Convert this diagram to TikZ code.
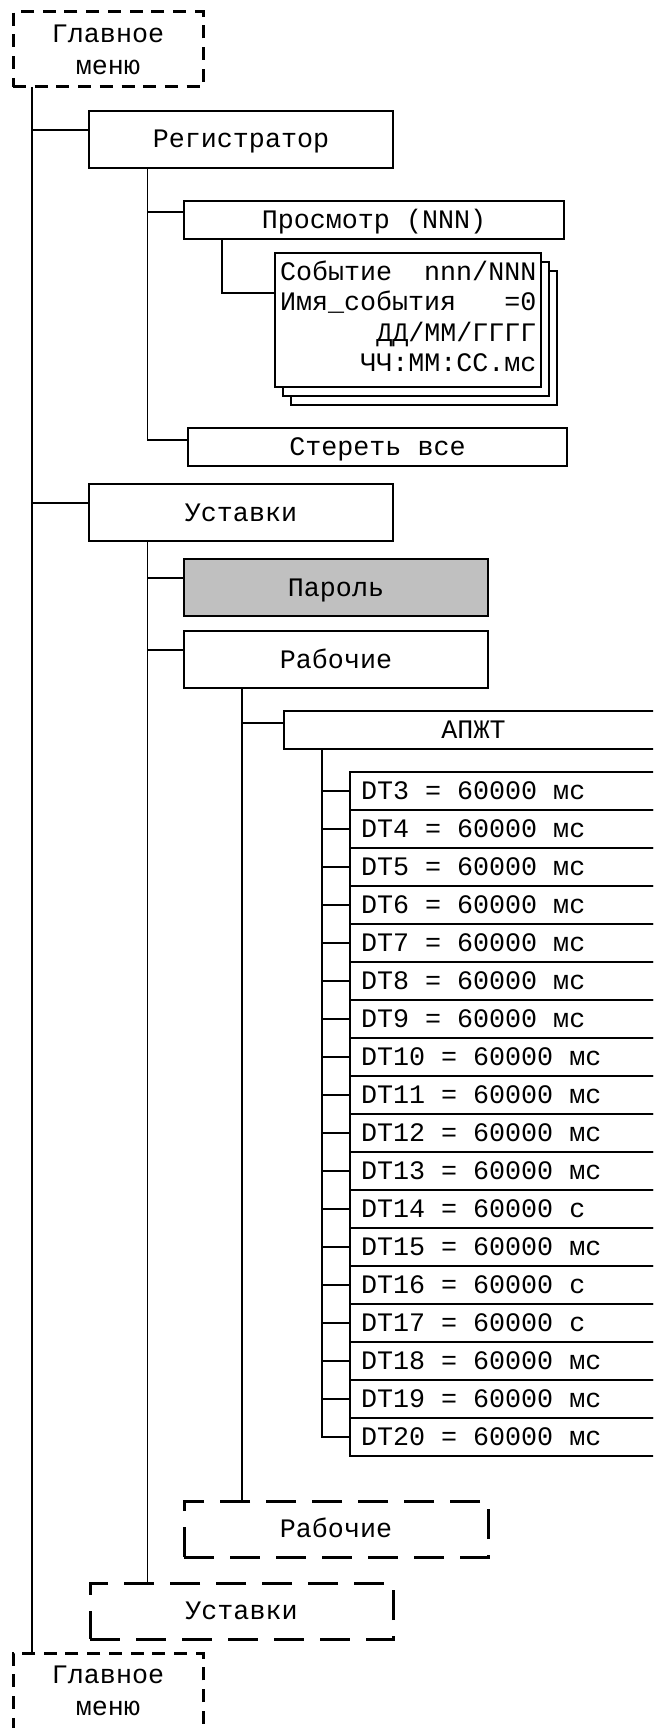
\documentclass[tikz,border=0pt]{standalone}
\usepackage{fontspec}
\setmainfont{Liberation Mono}
\newcommand\myfs{\fontsize{26.7}{32}\selectfont}
\definecolor{pgray}{RGB}{192,192,192}
\begin{document}
\begin{tikzpicture}[x=1pt,y=-1pt,
  box/.style={draw, line width=1.8pt, rectangle, anchor=north west, inner sep=0pt, outer sep=0pt, fill=white, text height=17pt, text depth=0pt, font=\myfs},
  greybox/.style={box, fill=pgray},
  dbox/.style={box, line width=3pt, dash pattern=on 30pt off 16pt},
  gmbox/.style={draw, line width=3pt, dash pattern=on 13pt off 8.7pt, rectangle, anchor=north west, inner sep=0pt, outer sep=0pt, fill=white, align=center, font=\myfs},
  evbox/.style={draw, line width=1.8pt, rectangle, anchor=north west, inner sep=0pt, outer sep=0pt, fill=white, minimum width=266pt, minimum height=134pt},
  evtext/.style={inner sep=0pt, outer sep=0pt, font=\myfs},
  dtbox/.style={draw, line width=1.8pt, rectangle, anchor=north west, outer sep=0pt, fill=white, inner xsep=11pt, inner ysep=0pt, minimum height=38pt, text height=17pt, text depth=0pt, font=\myfs},
  conn/.style={line width=1.8pt}
]
\useasboundingbox (0,0) rectangle (653,1728);
\clip (0,0) rectangle (653,1728);

% trunk x positions
\coordinate (tx) at (32,0);
\coordinate (rx) at (147.5,0);
\coordinate (px) at (222,0);
\coordinate (wx) at (242,0);
\coordinate (ax) at (322,0);

% nodes
\node[gmbox, minimum width=190pt, minimum height=75pt] (gm1) at (13,12) {Главное\\меню};
\node[box, minimum width=304pt, minimum height=57pt] (reg) at (89,111) {Регистратор};
\node[box, minimum width=380pt, minimum height=38pt] (prosm) at (184,201) {Просмотр (NNN)};
\node[evbox] (ev3) at (291,271) {};
\node[evbox] (ev2) at (283,262) {};
\node[evbox] (ev) at (275,253) {};
\node[evtext, anchor=base west] (evl1) at (280,280) {Событие\ \ nnn/NNN};
\node[evtext, anchor=base west] (evl2) at (280,310.5) {Имя\_события\ \ \ =0};
\node[evtext, anchor=base east] (evl3) at (536.5,341) {ДД/ММ/ГГГГ};
\node[evtext, anchor=base east] (evl4) at (536.5,371.5) {ЧЧ:ММ:СС.мс};
\node[box, minimum width=379pt, minimum height=38pt] (ster) at (188,428) {Стереть все};
\node[box, minimum width=304pt, minimum height=57pt] (ust) at (89,484) {Уставки};
\node[greybox, minimum width=304pt, minimum height=57pt] (par) at (184,559) {Пароль};
\node[box, minimum width=304pt, minimum height=57pt] (rab) at (184,631) {Рабочие};
\node[box, minimum width=379pt, minimum height=38pt] (apzt) at (284,711) {АПЖТ};
\foreach \i/\unit [count=\k from 0] in {3/мс,4/мс,5/мс,6/мс,7/мс,8/мс,9/мс,10/мс,11/мс,12/мс,13/мс,14/с,15/мс,16/с,17/с,18/мс,19/мс,20/мс}{
  \node[dtbox] (dt\i) at (350,{772+38*\k}) {\makebox[300pt][l]{DT\i\ =\ 60000\ \unit}};
  \draw[conn] (ax |- dt\i.west) -- (dt\i.west);
}
\node[dbox, minimum width=304pt, minimum height=56pt] (rab2) at (184,1501) {Рабочие};
\node[dbox, minimum width=303pt, minimum height=56pt] (ust2) at (90,1583) {Уставки};
\node[gmbox, minimum width=190pt, minimum height=76pt] (gm2) at (13,1653) {Главное\\меню};

% junction coordinates
\coordinate (cReg) at (32,130);
\coordinate (cUst) at (32,503);
\coordinate (cPros) at (147.5,212);
\coordinate (cSter) at (147.5,440);
\coordinate (cEv) at (222,293);
\coordinate (cPar) at (147.5,578);
\coordinate (cRab) at (147.5,650);
\coordinate (cApzt) at (242,723);

% connectors
\draw[conn] (gm1.south -| tx) -- (gm2.north -| tx);
\draw[conn] (cReg) -- (cReg -| reg.west);
\draw[conn] (cUst) -- (cUst -| ust.west);
\draw[conn] (reg.south -| rx) -- (cSter) -- (cSter -| ster.west);
\draw[conn] (cPros) -- (cPros -| prosm.west);
\draw[conn] (prosm.south -| px) -- (cEv) -- (cEv -| ev.west);
\draw[conn] (ust.south -| rx) -- (ust2.north -| rx);
\draw[conn] (cPar) -- (cPar -| par.west);
\draw[conn] (cRab) -- (cRab -| rab.west);
\draw[conn] (rab.south -| wx) -- (rab2.north -| wx);
\draw[conn] (cApzt) -- (cApzt -| apzt.west);
\draw[conn] (apzt.south -| ax) |- (dt20.west);
\end{tikzpicture}
\end{document}
